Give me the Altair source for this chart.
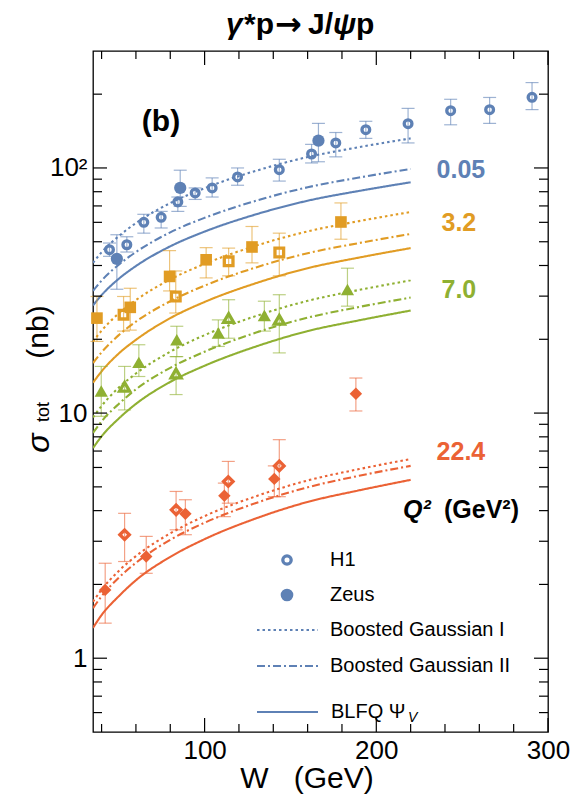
import altair as alt
import pandas as pd

# ---------------------------------------------------------------- data
Q2_LABELS = ["0.05", "3.2", "7.0", "22.4"]
COLORS = ["#5E81B5", "#E19C24", "#8FB032", "#EB6235"]
SHAPES = ["circle", "square", "triangle-up", "diamond"]
FILLED_SIZE = [150, 135, 175, 155]
OPEN_SIZE = [60, 75, 100, 90]

# model predictions sigma_tot (nb) on a grid of W (GeV)
W_MODEL = [35, 40, 50, 60, 80, 100, 130, 160, 190, 220]
BG1 = {
    "0.05": [41.0, 45.3, 52.7, 59.6, 71.9, 82.7, 97.4, 110.8, 121.6, 132.0],
    "3.2": [19.6, 21.7, 25.5, 28.9, 35.1, 40.6, 48.2, 55.1, 60.7, 66.1],
    "7.0": [9.6, 10.7, 12.7, 14.5, 17.8, 20.8, 24.9, 28.7, 31.8, 34.8],
    "22.4": [1.70, 1.905, 2.27, 2.61, 3.23, 3.80, 4.58, 5.31, 5.91, 6.49],
}
BG2 = {
    "0.05": [31.5, 34.7, 40.3, 45.4, 54.6, 62.6, 73.5, 83.4, 91.4, 99.0],
    "3.2": [16.0, 17.7, 20.8, 23.6, 28.6, 33.1, 39.3, 44.9, 49.4, 53.8],
    "7.0": [8.3, 9.25, 10.9, 12.5, 15.3, 17.8, 21.3, 24.5, 27.1, 29.6],
    "22.4": [1.60, 1.79, 2.13, 2.45, 3.04, 3.57, 4.30, 4.98, 5.55, 6.09],
}
BLFQ = {
    "0.05": [27.5, 30.3, 35.3, 39.8, 47.9, 55.0, 64.7, 73.5, 80.6, 87.4],
    "3.2": [13.3, 14.8, 17.5, 19.9, 24.4, 28.4, 33.9, 39.0, 43.1, 47.1],
    "7.0": [7.2, 8.04, 9.5, 10.9, 13.4, 15.6, 18.7, 21.6, 23.9, 26.2],
    "22.4": [1.33, 1.50, 1.79, 2.08, 2.59, 3.06, 3.72, 4.34, 4.84, 5.34],
}

# H1 measurements: W, sigma, lower and upper end of the error bar
H1_W = {
    "0.05": [44.6, 54.7, 64.6, 74.7, 84.4, 94.5, 104.4, 119.2, 143.5, 162.3, 176.4, 193.9, 218.5, 243.3, 266.0, 290.7],
    "3.2": [52.8, 83.2, 114.0, 143.5],
    "7.0": [53.4, 83.4, 114.0, 143.5],
    "22.4": [53.4, 83.4, 113.8, 143.5],
}
H1_SIG = {
    "0.05": [46.4, 48.6, 60.0, 62.9, 72.7, 79.1, 82.9, 91.9, 98.4, 114.0, 126.5, 143.3, 151.6, 171.3, 172.9, 194.2],
    "3.2": [25.2, 29.9, 41.6, 45.2],
    "7.0": [12.8, 14.5, 24.4, 24.0],
    "22.4": [3.19, 4.03, 5.26, 6.09],
}
H1_LO = {
    "0.05": [43.6, 45.4, 54.2, 56.9, 66.5, 74.4, 76.1, 85.0, 88.4, 104.8, 111.0, 132.0, 126.5, 150.0, 152.0, 173.0],
    "3.2": [21.6, 25.6, 36.3, 36.3],
    "7.0": [10.3, 11.9, 20.2, 17.6],
    "22.4": [2.48, 3.34, 4.29, 4.56],
}
H1_HI = {
    "0.05": [49.4, 52.4, 64.7, 66.5, 76.1, 82.9, 91.1, 100.0, 108.5, 124.8, 139.5, 155.0, 175.0, 190.6, 193.9, 223.0],
    "3.2": [29.9, 38.0, 47.1, 54.2],
    "7.0": [15.5, 17.0, 29.0, 30.4],
    "22.4": [3.90, 4.79, 6.35, 7.79],
}

# ZEUS measurements
ZEUS_W = {
    "0.05": [48.9, 85.8, 166.3],
    "3.2": [37.3, 56.7, 79.6, 100.9, 127.6, 179.4],
    "7.0": [39.8, 61.7, 83.8, 108.0, 134.8, 183.2],
    "22.4": [42.1, 66.0, 88.8, 111.5, 140.6, 188.1],
}
ZEUS_SIG = {
    "0.05": [42.6, 82.9, 129.2],
    "3.2": [24.4, 27.0, 36.1, 42.2, 47.6, 60.2],
    "7.0": [12.3, 16.1, 19.9, 21.2, 25.0, 31.9],
    "22.4": [1.90, 2.60, 3.88, 4.60, 5.39, 12.0],
}
ZEUS_LO = {
    "0.05": [32.0, 69.7, 106.0],
    "3.2": [19.6, 21.8, 31.5, 35.6, 41.0, 51.2],
    "7.0": [9.7, 14.1, 17.0, 18.7, 21.6, 27.3],
    "22.4": [1.39, 2.22, 3.19, 3.78, 4.56, 10.2],
}
ZEUS_HI = {
    "0.05": [53.4, 97.9, 152.0],
    "3.2": [29.9, 32.3, 46.0, 47.3, 57.7, 72.0],
    "7.0": [15.5, 19.0, 22.6, 24.0, 28.6, 39.0],
    "22.4": [2.44, 3.14, 4.43, 5.18, 6.09, 13.9],
}

# curve labels (anchor in data coordinates)
LABEL_W = [249.3, 248.1, 248.1, 249.3]
LABEL_SIG = [98.4, 59.6, 31.9, 6.91]

# frame ticks
X_MAJOR = [100, 200, 300]
X_MINOR = [40, 60, 80, 120, 140, 160, 180, 220, 240, 260, 280]
Y_MAJOR = [1, 10, 100]
Y_MINOR = [0.6, 0.7, 0.8, 0.9, 2, 3, 4, 5, 6, 7, 8, 9,
           20, 30, 40, 50, 60, 70, 80, 90, 200]

MODELS = ["Boosted Gaussian I", "Boosted Gaussian II", "BLFQ"]
DASHES = [[2.5, 3], [8, 3, 2, 3], [1, 0]]

# ---------------------------------------------------------------- tables
rows = []
for name, table in zip(MODELS, [BG1, BG2, BLFQ]):
    for q in Q2_LABELS:
        for w, s in zip(W_MODEL, table[q]):
            rows.append({"W": w, "sigma": s, "q2": q, "model": name, "key": name + q})
curves = pd.DataFrame(rows)


def points(ws, ss, los, his):
    out = []
    for q in Q2_LABELS:
        for w, s, lo, hi in zip(ws[q], ss[q], los[q], his[q]):
            out.append({"W": w, "sigma": s, "lo": lo, "hi": hi, "q2": q})
    return pd.DataFrame(out)


h1 = points(H1_W, H1_SIG, H1_LO, H1_HI)
zeus = points(ZEUS_W, ZEUS_SIG, ZEUS_LO, ZEUS_HI)
data_all = pd.concat([h1, zeus], ignore_index=True)

labels = pd.DataFrame({"W": LABEL_W, "sigma": LABEL_SIG, "q2": Q2_LABELS})

# ---------------------------------------------------------------- encodings
FONT = "Liberation Sans"
PW, PH = 455, 681

x_scale = alt.Scale(domain=[35, 300], nice=False, zero=False)
y_scale = alt.Scale(type="log", domain=[0.5, 300], nice=False)
x_axis = alt.Axis(values=X_MAJOR, ticks=False, domain=False, grid=False,
                  labelFontSize=26, labelPadding=5, labelColor="black",
                  labelFont=FONT, labelFlush=False, labelOverlap=False, title=None)
y_axis = alt.Axis(values=Y_MAJOR, ticks=False, domain=False, grid=False,
                  labelExpr="datum.value >= 100 ? '10²' : format(datum.value, 'd')",
                  labelFontSize=26, labelPadding=6, labelColor="black",
                  labelFont=FONT, labelOverlap=False, title=None)


def X(field):
    return alt.X(field, type="quantitative", scale=x_scale, axis=x_axis)


def Y(field):
    return alt.Y(field, type="quantitative", scale=y_scale, axis=y_axis)


color = alt.Color("q2:N", scale=alt.Scale(domain=Q2_LABELS, range=COLORS), legend=None)

lines = alt.Chart(curves).mark_line(strokeWidth=2.1, interpolate="monotone", clip=True).encode(
    x=X("W"), y=Y("sigma"), color=color, detail="key:N",
    strokeDash=alt.StrokeDash("model:N", scale=alt.Scale(domain=MODELS, range=DASHES), legend=None),
)

bars = alt.Chart(data_all).mark_rule(strokeWidth=1.2, opacity=0.6).encode(
    x=X("W"), y=Y("lo"), y2="hi", color=color)
caps_lo = alt.Chart(data_all).mark_tick(orient="horizontal", size=13, thickness=1.2, opacity=0.6).encode(
    x=X("W"), y=Y("lo"), color=color)
caps_hi = alt.Chart(data_all).mark_tick(orient="horizontal", size=13, thickness=1.2, opacity=0.6).encode(
    x=X("W"), y=Y("hi"), color=color)

# one marker layer per Q^2 group: filled = ZEUS, open = H1
marker_layers = []
for q, col, shp, fs, os_ in zip(Q2_LABELS, COLORS, SHAPES, FILLED_SIZE, OPEN_SIZE):
    marker_layers.append(
        alt.Chart(h1[h1.q2 == q]).mark_point(
            shape=shp, filled=False, size=os_, strokeWidth=3.3, color=col, opacity=1
        ).encode(x=X("W"), y=Y("sigma"))
    )
    marker_layers.append(
        alt.Chart(zeus[zeus.q2 == q]).mark_point(
            shape=shp, filled=True, size=fs, color=col, opacity=1, strokeWidth=0
        ).encode(x=X("W"), y=Y("sigma"))
    )

q2_text = alt.Chart(labels).mark_text(fontSize=25, fontWeight="bold", font=FONT,
                                      align="center", baseline="middle").encode(
    x=X("W"), y=Y("sigma"), color=color, text="q2:N")

# frame ticks pointing inwards on all four sides
xmaj = pd.DataFrame({"v": X_MAJOR})
xmin = pd.DataFrame({"v": X_MINOR})
ymaj = pd.DataFrame({"v": Y_MAJOR})
ymin = pd.DataFrame({"v": Y_MINOR})
tick_style = dict(color="black", strokeWidth=1.2)
ticks = [
    alt.Chart(xmaj).mark_rule(**tick_style).encode(x=X("v"), y=alt.value(PH), y2=alt.value(PH - 14)),
    alt.Chart(xmaj).mark_rule(**tick_style).encode(x=X("v"), y=alt.value(0), y2=alt.value(14)),
    alt.Chart(xmin).mark_rule(**tick_style).encode(x=X("v"), y=alt.value(PH), y2=alt.value(PH - 8)),
    alt.Chart(xmin).mark_rule(**tick_style).encode(x=X("v"), y=alt.value(0), y2=alt.value(8)),
    alt.Chart(ymaj).mark_rule(**tick_style).encode(y=Y("v"), x=alt.value(0), x2=alt.value(14)),
    alt.Chart(ymaj).mark_rule(**tick_style).encode(y=Y("v"), x=alt.value(PW), x2=alt.value(PW - 14)),
    alt.Chart(ymin).mark_rule(**tick_style).encode(y=Y("v"), x=alt.value(0), x2=alt.value(9)),
    alt.Chart(ymin).mark_rule(**tick_style).encode(y=Y("v"), x=alt.value(PW), x2=alt.value(PW - 9)),
]

one = pd.DataFrame({"d": [0]})


def txt(s, x, y, size, weight="normal", style="normal", align="left", angle=0,
        col="black", font=FONT):
    return alt.Chart(one).mark_text(
        text=s, fontSize=size, fontWeight=weight, fontStyle=style, font=font,
        align=align, baseline="middle", angle=angle, color=col,
    ).encode(x=alt.value(x), y=alt.value(y))


BLUE = COLORS[0]
NB = "\u00a0"
annotations = [
    # title: gamma* p -> J/psi p
    txt("γ", 133, -26, 30, "bold", "italic"),
    txt("*p", 151, -26, 30, "bold"),
    txt("→", 182, -26, 32, "bold", font="DejaVu Sans"),
    txt("J/", 215, -26, 30, "bold"),
    txt("ψ", 240, -26, 30, "bold", "italic"),
    txt("p", 263, -26, 30, "bold"),
    txt("(b)", 68, 71, 30, "bold", align="center"),
    txt("Q²", 310, 459, 25, "bold", "italic"),
    txt("(GeV²)", 351, 459, 25, "bold"),
    # axis titles
    txt("W" + NB * 3 + "(GeV)", 214, 728, 30, align="center"),
    txt("σ", -54, 392, 32, style="italic", align="center", angle=270),
    txt("tot", -49, 361, 18, align="center", angle=270),
    txt("(nb)", -54, 281, 30, align="center", angle=270),
    # legend
    txt("H1", 237, 509, 20),
    txt("Zeus", 237, 544, 20),
    txt("Boosted Gaussian I", 237, 579, 20),
    txt("Boosted Gaussian II", 237, 615, 20),
    txt("BLFQ Ψ", 238, 661, 20),
    txt("V", 315, 667, 14, style="italic"),
]

legend_marks = [
    alt.Chart(one).mark_point(shape="circle", filled=False, strokeWidth=3.3, size=70, color=BLUE, opacity=1).encode(
        x=alt.value(194), y=alt.value(509)),
    alt.Chart(one).mark_point(shape="circle", filled=True, size=160, color=BLUE, opacity=1, strokeWidth=0).encode(
        x=alt.value(194), y=alt.value(544)),
    alt.Chart(one).mark_rule(color=BLUE, strokeWidth=2, strokeDash=DASHES[0]).encode(
        x=alt.value(164), x2=alt.value(225), y=alt.value(579)),
    alt.Chart(one).mark_rule(color=BLUE, strokeWidth=2, strokeDash=DASHES[1]).encode(
        x=alt.value(164), x2=alt.value(225), y=alt.value(615)),
    alt.Chart(one).mark_rule(color=BLUE, strokeWidth=2).encode(
        x=alt.value(164), x2=alt.value(225), y=alt.value(661)),
]

chart = alt.layer(
    lines, bars, caps_lo, caps_hi, *marker_layers, q2_text,
    *ticks, *annotations, *legend_marks,
).properties(
    width=PW, height=PH,
    padding={"left": 93, "top": 51, "right": 25, "bottom": 69},
    autosize=alt.AutoSizeParams(type="none"),
    background="white",
).configure_view(
    stroke="black", strokeWidth=1.3,
)

chart.save("out.html", embed_options={"renderer": "svg", "actions": False})
